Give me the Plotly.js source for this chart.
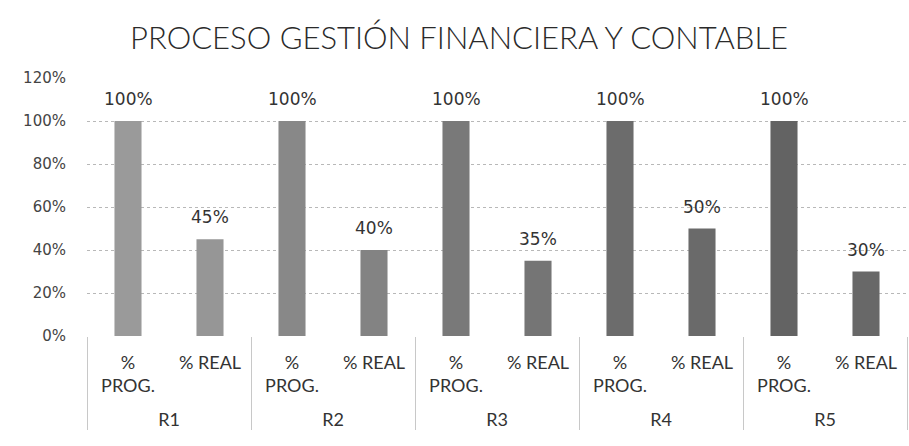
<!DOCTYPE html>
<html>
<head>
<meta charset="utf-8">
<script src="https://cdn.plot.ly/plotly-3.0.1.min.js"></script>
<style>html,body{margin:0;padding:0;background:#fff;}#chart{width:909px;height:446px;}</style>
</head>
<body>
<div id="chart"></div>
<script>
var groups = ["<br>R1", "<br>R1", "<br>R2", "<br>R2", "<br>R3", "<br>R3", "<br>R4", "<br>R4", "<br>R5", "<br>R5"];
var subLabels = ["%<br>PROG.", "% REAL", "%<br>PROG.", "% REAL", "%<br>PROG.", "% REAL", "%<br>PROG.", "% REAL", "%<br>PROG.", "% REAL"];
var values = [1.00, 0.45, 1.00, 0.40, 1.00, 0.35, 1.00, 0.50, 1.00, 0.30];
var barColors = ["#9a9a9a", "#969696", "#888888", "#838383", "#797979", "#757575", "#6c6c6c", "#6a6a6a", "#636363", "#686868"];
var yTicks = [0, 0.2, 0.4, 0.6, 0.8, 1.0, 1.2];

var trace = {
  type: "bar",
  x: [groups, subLabels],
  y: values,
  marker: {color: barColors},
  hoverinfo: "none"
};

var annotations = values.map(function (v, i) {
  return {
    x: i, y: v, xref: "x", yref: "y",
    text: Math.round(v * 100) + "%",
    showarrow: false, yanchor: "bottom", yshift: 10,
    font: {family: "DejaVu Sans", size: 17, color: "#333"}
  };
});

var layout = {
  width: 909, height: 446,
  margin: {l: 87, r: 2, t: 78, b: 110},
  paper_bgcolor: "#fff", plot_bgcolor: "#fff",
  showlegend: false,
  bargap: 0.67,
  title: {
    text: "PROCESO GESTIÓN FINANCIERA Y CONTABLE",
    x: 0.505, xanchor: "center", y: 0.915, yanchor: "middle",
    font: {family: "Lato", size: 31, weight: 300, color: "#2a2a2a"}
  },
  xaxis: {
    type: "multicategory",
    showgrid: false, zeroline: false, showline: false,
    ticks: "",
    tickfont: {family: "Lato", size: 18, color: "#333"},
    ticklabelstandoff: 14,
    showdividers: true, dividercolor: "#c8c8c8", dividerwidth: 1
  },
  yaxis: {
    range: [0, 1.2],
    tickvals: yTicks, tickformat: ".0%",
    showgrid: true, gridcolor: "#b8b8b8", griddash: "dot", gridwidth: 1,
    zeroline: false, showline: false,
    tickfont: {family: "DejaVu Sans", size: 15, color: "#444"},
    ticklabelstandoff: 20
  },
  annotations: annotations
};

Plotly.newPlot("chart", [trace], layout, {displayModeBar: false, staticPlot: true});
</script>
</body>
</html>
